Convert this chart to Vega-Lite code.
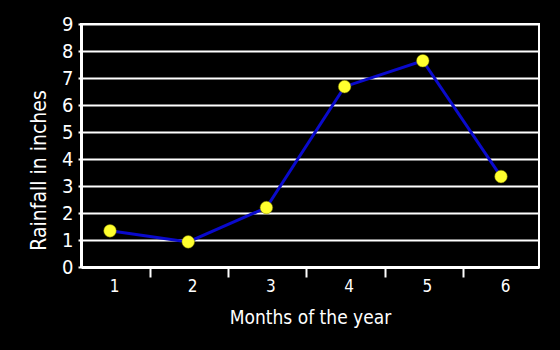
{
  "$schema": "https://vega.github.io/schema/vega-lite/v6.json",
  "width": 458,
  "height": 243,
  "autosize": {"type": "none"},
  "padding": {"left": 81, "top": 24, "right": 21, "bottom": 83},
  "background": "black",
  "config": {
    "view": {"stroke": "white", "strokeWidth": 2},
    "axis": {"labelFont": "DejaVu Sans Condensed", "titleFont": "DejaVu Sans Condensed", "labelColor": "white", "titleColor": "white", "domainColor": "white", "tickColor": "white", "gridColor": "white"}
  },
  "data": {
    "values": [
      {"month": 1, "rain": 1.34},
      {"month": 2, "rain": 0.93},
      {"month": 3, "rain": 2.2},
      {"month": 4, "rain": 6.68},
      {"month": 5, "rain": 7.64},
      {"month": 6, "rain": 3.35}
    ]
  },
  "encoding": {
    "x": {
      "field": "month",
      "type": "quantitative",
      "scale": {"domain": [0.629, 6.486], "nice": false, "zero": false},
      "axis": {
        "title": "Months of the year",
        "values": [1, 2, 3, 4, 5, 6],
        "format": "d",
        "grid": false,
        "domainWidth": 3,
        "tickSize": 10,
        "tickWidth": 2,
        "tickOffset": 40,
        "tickOpacity": {"condition": {"test": "datum.value == 6", "value": 0}, "value": 1},
        "labelOffset": -36,
        "labelFontSize": 17,
        "labelPadding": 1,
        "titleFontSize": 19,
        "titleFontWeight": "normal",
        "titlePadding": 14
      }
    },
    "y": {
      "field": "rain",
      "type": "quantitative",
      "scale": {"domain": [0, 9], "nice": false},
      "axis": {
        "title": "Rainfall in inches",
        "values": [0, 1, 2, 3, 4, 5, 6, 7, 8, 9],
        "grid": true,
        "gridWidth": 2,
        "domainWidth": 3,
        "tickSize": 3,
        "tickWidth": 2,
        "labelFontSize": 20,
        "labelPadding": 5,
        "titleFontSize": 21,
        "titleFontWeight": "normal",
        "titlePadding": 12,
        "titleY": 146
      }
    }
  },
  "layer": [
    {"mark": {"type": "line", "color": "#0a0acc", "strokeWidth": 3}},
    {"mark": {"type": "point", "filled": true, "color": "#ffff2e", "size": 160, "opacity": 1, "stroke": "#777700", "strokeWidth": 0.5}}
  ]
}
